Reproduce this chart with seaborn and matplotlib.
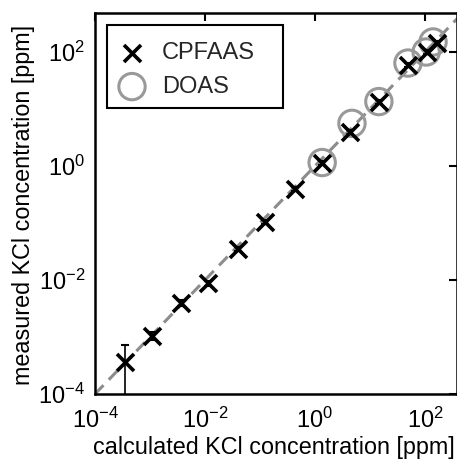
import numpy as np
import pandas as pd
import matplotlib
matplotlib.use("Agg")
import matplotlib.pyplot as plt
import matplotlib.patches as mpatches
import seaborn as sns

# CPFAAS data (calculated vs measured, ppm)
cpfaas_calc = [3.5e-4, 1.1e-3, 3.6e-3, 1.12e-2, 4.0e-2, 0.123, 0.44, 1.35, 4.4, 14.5, 49, 110, 165]
cpfaas_meas = [3.6e-4, 1.05e-3, 4.0e-3, 8.9e-3, 3.5e-2, 0.105, 0.40, 1.12, 4.0, 13.2, 59, 100, 145]
cpfaas_err = [3.6e-4, 0.15e-3, 0.5e-3, 0.9e-3, 0.3e-2, 0.008, 0.03, 0.08, 0.3, 1.0, 4, 7, 10]

# DOAS data
doas_calc = [1.35, 4.7, 14.5, 49, 105, 140]
doas_meas = [1.15, 5.6, 13.5, 64, 100, 150]

# 1:1 reference line
ref_line = [1e-4, 1e4]

sns.set_theme(style="white")
plt.rcParams['font.family'] = ['Liberation Sans', 'DejaVu Sans']
plt.rcParams['mathtext.default'] = 'regular'
plt.rcParams['axes.unicode_minus'] = False

W, H = 457, 461
fig = plt.figure(figsize=(W / 100, H / 100), dpi=100)
AX_L, AX_R, AX_T, AX_B = 95, 456.5, 13, 394
ax_w = AX_R - AX_L
ax_h = AX_B - AX_T
ax = fig.add_axes([AX_L / W, 1 - AX_B / H, ax_w / W, ax_h / H])


def px2ax(px, py):
    return (px - AX_L) / ax_w, (AX_B - py) / ax_h


df_c = pd.DataFrame({"calc": cpfaas_calc, "meas": cpfaas_meas})
df_d = pd.DataFrame({"calc": doas_calc, "meas": doas_meas})

ax.plot(ref_line, ref_line, ls=(0, (4, 2.5)), color="#8c8c8c", lw=2.2, zorder=1)

ax.errorbar(cpfaas_calc, cpfaas_meas, yerr=cpfaas_err, fmt="none", ecolor="black",
            elinewidth=1.2, capsize=3, capthick=1.5, zorder=2)

sns.scatterplot(data=df_d, x="calc", y="meas", ax=ax, marker="o", s=360,
                facecolors="none", edgecolor="#999999", linewidth=2.2, zorder=3,
                label="DOAS")
sns.scatterplot(data=df_c, x="calc", y="meas", ax=ax, marker="x", s=150,
                color="black", linewidth=2.6, zorder=4, label="CPFAAS")

ax.set_xscale("log")
ax.set_yscale("log")
ax.set_xlim(1e-4, 10 ** (-4 + ax_w / 55))
ax.set_ylim(1e-4, 10 ** (-4 + ax_h / 57))
ax.set_xticks([1e-4, 1e-2, 1e0, 1e2])
ax.set_yticks([1e-4, 1e-2, 1e0, 1e2])
ax.minorticks_off()
ax.tick_params(which="major", direction="in", length=6, width=1.5, top=True, right=True,
               labelsize=17, color="black", pad=7, labelcolor="black")
ax.tick_params(axis="x", pad=10)

for sp in ax.spines.values():
    sp.set_visible(True)
    sp.set_color("black")
    sp.set_linewidth(1.8)

ax.set_xlabel("calculated KCl concentration [ppm]", fontsize=16.8, color="black")
ax.set_ylabel("measured KCl concentration [ppm]", fontsize=16.8, color="black")
ax.xaxis.label.set_verticalalignment("baseline")
ax.xaxis.set_label_coords(*px2ax(273.5, 454))
ax.yaxis.set_label_coords(*px2ax(35, 205))

# legend frame
fx0, fy0 = px2ax(106.5, 108.5)
fx1, fy1 = px2ax(283, 25)
frame = mpatches.Rectangle((fx0, fy0), fx1 - fx0, fy1 - fy0, transform=ax.transAxes,
                           facecolor="white", edgecolor="black", linewidth=1.5, zorder=5)
ax.add_patch(frame)

handles, labels = ax.get_legend_handles_labels()
order = [labels.index("CPFAAS"), labels.index("DOAS")]
leg = ax.legend([handles[i] for i in order], [labels[i] for i in order],
                loc="upper left", bbox_to_anchor=px2ax(120.2, 42),
                fontsize=17, frameon=False,
                handletextpad=0.77, borderpad=0, labelspacing=0.5, borderaxespad=0,
                handlelength=1.0)
leg.set_zorder(6)

fig.savefig("out.png", dpi=100)
